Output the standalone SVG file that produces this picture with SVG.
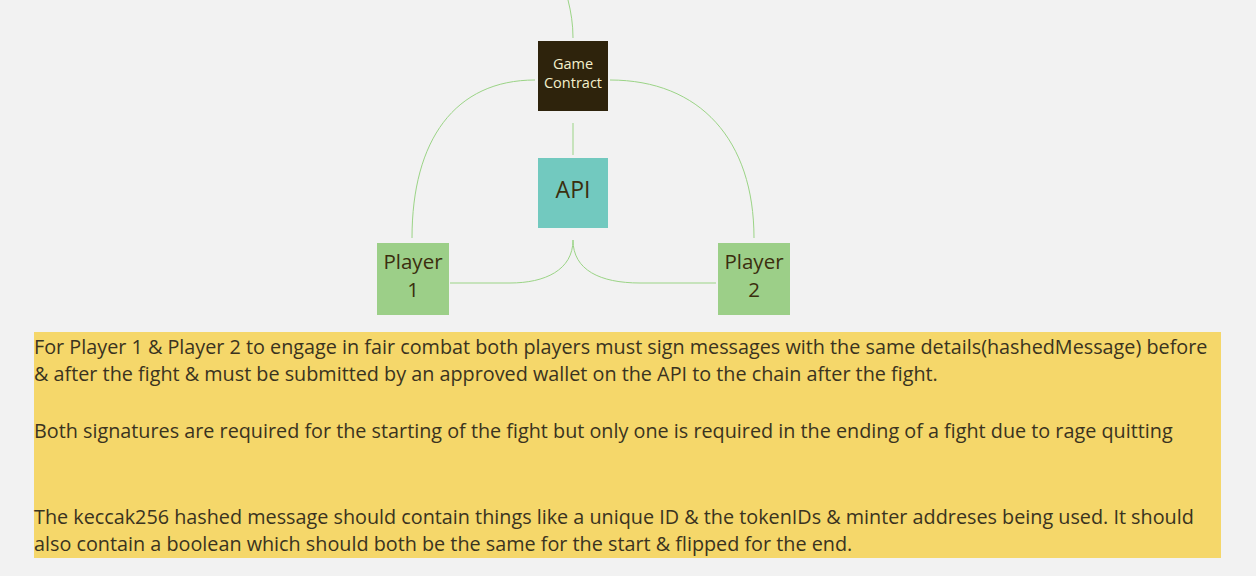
<svg xmlns="http://www.w3.org/2000/svg" width="1256" height="576" viewBox="0 0 1256 576">
<style>
.t{font-family:"Open Sans","DejaVu Sans",sans-serif;}
.lbl{font-size:20.5px;fill:#3b2e0e;text-anchor:middle;}
.body{font-size:19.8px;fill:#3a3320;}
.con{fill:none;stroke:#9bd486;stroke-width:1;}
</style>
<rect width="1256" height="576" fill="#f2f2f2"/>
<g id="connectors">
<path class="con" d="M568,0 C571,12 573,24 573,38"/>
<path class="con" d="M535,80 C455,80 412,140 412,238"/>
<path class="con" d="M610,80 C700,80 754,140 754,238"/>
<path class="con" d="M573,123 L573,155"/>
<path class="con" d="M573,240 C573,270 545,283 510,283 L450,283"/>
<path class="con" d="M573,240 C573,270 600,283 640,283 L716,283"/>
</g>
<g id="game-contract">
<rect x="538" y="41" width="70" height="70" fill="#2e230c"/>
<text class="t" x="573" y="69" font-size="14.5" fill="#f4f0cc" text-anchor="middle">Game</text>
<text class="t" x="573" y="88" font-size="14.5" fill="#f4f0cc" text-anchor="middle">Contract</text>
</g>
<g id="api">
<rect x="538" y="158" width="70" height="70" fill="#72c9bf"/>
<text class="t" x="573" y="198" font-size="23" fill="#3b2e0e" text-anchor="middle">API</text>
</g>
<g id="player1">
<rect x="377" y="243" width="72" height="72" fill="#9ccf88"/>
<text class="t lbl" x="413" y="269">Player</text>
<text class="t lbl" x="413" y="297">1</text>
</g>
<g id="player2">
<rect x="718" y="243" width="72" height="72" fill="#9ccf88"/>
<text class="t lbl" x="754" y="269">Player</text>
<text class="t lbl" x="754" y="297">2</text>
</g>
<g id="note">
<rect x="34" y="332" width="1187" height="226" fill="#f5d76a"/>
<text class="t body" x="34" y="354">For Player 1 &amp; Player 2 to engage in fair combat both players must sign messages with the same details(hashedMessage) before</text>
<text class="t body" x="34" y="381">&amp; after the fight &amp; must be submitted by an approved wallet on the API to the chain after the fight.</text>
<text class="t body" x="34" y="438">Both signatures are required for the starting of the fight but only one is required in the ending of a fight due to rage quitting</text>
<text class="t body" x="34" y="524">The keccak256 hashed message should contain things like a unique ID &amp; the tokenIDs &amp; minter addreses being used. It should</text>
<text class="t body" x="34" y="551">also contain a boolean which should both be the same for the start &amp; flipped for the end.</text>
</g>
</svg>
